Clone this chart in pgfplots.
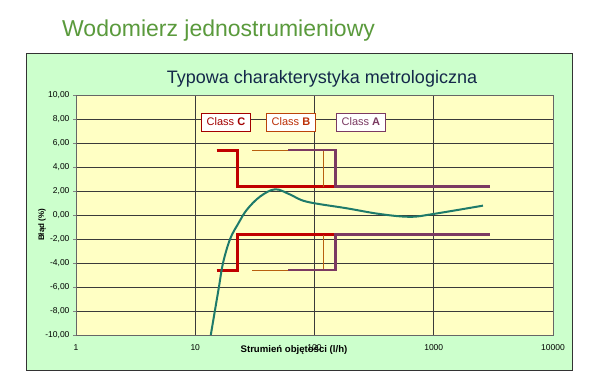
\documentclass[border=0pt]{standalone}
\usepackage{pgfplots}
\pgfplotsset{compat=1.18}
\usepackage{fontspec}
\setmainfont{Liberation Sans}
\definecolor{frameg}{HTML}{CCFFCC}
\definecolor{plotbg}{HTML}{FFFFC4}
\definecolor{titleg}{HTML}{5A9A3C}
\definecolor{navy}{HTML}{14284A}
\definecolor{classC}{HTML}{C00000}
\definecolor{classB}{HTML}{B8600F}
\definecolor{classA}{HTML}{7B3A62}
\definecolor{curvec}{HTML}{1E7A6A}
\definecolor{gridc}{HTML}{3A3A3A}
\begin{document}
\begin{tikzpicture}[x=1pt,y=1pt]
\useasboundingbox (0,0) rectangle (600,390);
\fill[white] (0,0) rectangle (600,390);
\node[anchor=base west, text=titleg, inner sep=0, font=\fontsize{23}{27}\selectfont] at (62,353) {Wodomierz jednostrumieniowy};
\filldraw[fill=frameg, draw=black!80, line width=1pt] (26,19) rectangle (572,336);
\node[anchor=base, text=navy, inner sep=0, font=\fontsize{18}{21}\selectfont] at (322,306) {Typowa charakterystyka metrologiczna};
\begin{axis}[
  at={(76pt,55pt)}, anchor=south west,
  width=477pt, height=240pt, scale only axis,
  xmode=log, xmin=1, xmax=10000, ymin=-10, ymax=10,
  xtick={1,10,100,1000,10000},
  xticklabels={1,10,100,1000,10000},
  ytick={-10,-8,...,10},
  yticklabel={\pgfmathprintnumber[fixed,fixed zerofill,precision=2,use comma]{\tick}},
  /pgf/number format/assume math mode=true,
  ticklabel style={font=\fontsize{8.5}{10}\selectfont},
  xticklabel style={yshift=-3pt},
  ytick pos=left, xtick pos=bottom,
  tick align=outside, major tick length=3pt,
  xtick style={draw=none},
  minor tick num=0,
  log basis x=10,
  grid=major,
  major grid style={gridc, line width=0.7pt},
  axis background/.style={fill=plotbg},
  axis line style={draw=gray!80!black, line width=0.6pt},
  clip=false,
]
% Class C
\addplot[classC, line width=3pt, line join=miter] coordinates {(15.1,5.4) (22.5,5.4) (22.5,2.35) (2950,2.35)};
\addplot[classC, line width=3pt, line join=miter] coordinates {(15.1,-4.6) (22.5,-4.6) (22.5,-1.65) (2950,-1.65)};
% Class B
\addplot[classB, line width=0.9pt] coordinates {(30,5.4) (118,5.4) (118,2.35)};
\addplot[classB, line width=0.9pt] coordinates {(30,-4.6) (118,-4.6) (118,-1.65)};
% Class A
\addplot[classA, line width=2.6pt, line join=miter] coordinates {(60,5.4) (150,5.4) (150,2.35) (2950,2.35)};
\addplot[classA, line width=2.6pt, line join=miter] coordinates {(60,-4.6) (150,-4.6) (150,-1.65) (2950,-1.65)};
% meter curve
\addplot[curvec, line width=2pt, smooth, tension=0.6] coordinates {
 (13.5,-10) (14.6,-8) (15.8,-6) (17.1,-4) (19.6,-2) (23,-0.7) (27,0.42)
 (34.9,1.53) (46.7,2.14) (62,1.72) (86,1.11) (186,0.56) (354,0.08)
 (632,-0.15) (986,0.08) (2588,0.78)};
% class labels
\node[draw=classC!85!black, fill=white, text=classC!85!black, font=\fontsize{11}{13}\selectfont, inner sep=1pt, minimum width=49pt, minimum height=18pt] at (axis cs:18.1,7.75) {Class \textbf{C}};
\node[draw=classB!70!classC, fill=white, text=classB!50!classC, font=\fontsize{11}{13}\selectfont, inner sep=1pt, minimum width=49pt, minimum height=18pt] at (axis cs:63.5,7.75) {Class \textbf{B}};
\node[draw=classA, fill=white, text=classA, font=\fontsize{11}{13}\selectfont, inner sep=1pt, minimum width=49pt, minimum height=18pt] at (axis cs:245,7.75) {Class \textbf{A}};
\end{axis}
\node[font=\bfseries\fontsize{9.6}{11}\selectfont] at (294,40) {Strumień objętości (l/h)};
\node[rotate=90, font=\bfseries\fontsize{8}{9}\selectfont] at (42,165) {Błąd (\%)};
\end{tikzpicture}
\end{document}
